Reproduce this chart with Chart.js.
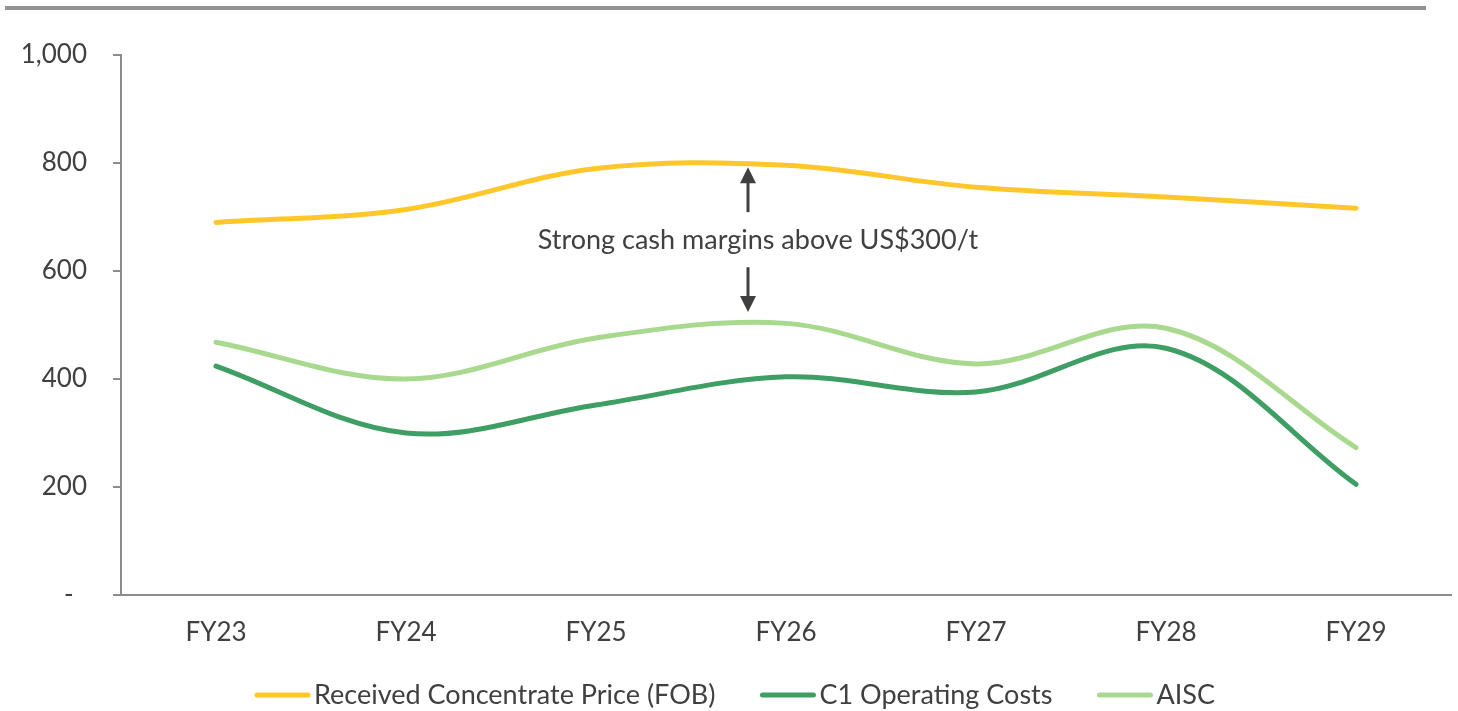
<!DOCTYPE html>
<html>
<head>
<meta charset="utf-8">
<script src="https://cdn.jsdelivr.net/npm/chart.js@4.4.1/dist/chart.umd.min.js"></script>
<style>
  html, body { margin: 0; padding: 0; background: #fff; }
  #wrap { position: relative; width: 1458px; height: 711px; }
</style>
</head>
<body>
<div id="wrap"><canvas id="costChart" width="1458" height="711"></canvas></div>
<script>
const years = ["FY23", "FY24", "FY25", "FY26", "FY27", "FY28", "FY29"]
const receivedPrice = [690, 714, 790, 796, 755, 737, 716]
const c1Costs = [424, 300, 352, 404, 376, 457, 205]
const aiscCosts = [468, 400, 476, 503, 428, 494, 273]
const yTicks = [0, 200, 400, 600, 800, 1000]

const noteText = "Strong cash margins above US$300/t"
// arrow position in data units (category index, value)
const noteX = 2.8
const arrowUp = [792, 709]
const arrowDown = [607, 524]
const noteY = 656

const COLORS = {
  yellow: "#FFC72C",
  darkGreen: "#3F9E63",
  lightGreen: "#A9D98E",
  text: "#404040",
  axis: "#8C8C8C",
}
const FONT = "Lato, 'Open Sans', sans-serif"

// top rule, arrows + annotation, legend row
const extras = {
  id: "extras",
  beforeDraw(chart) {
    const ctx = chart.ctx
    ctx.save()
    ctx.fillStyle = "#929292"
    ctx.fillRect(5, 6, 1421, 4)
    ctx.restore()
  },
  afterDatasetsDraw(chart) {
    const { ctx, scales } = chart
    const x = scales.x.getPixelForValue(noteX)
    const drawArrow = (from, to) => {
      const y1 = scales.y.getPixelForValue(from)
      const y2 = scales.y.getPixelForValue(to)
      const dir = y2 > y1 ? 1 : -1
      ctx.beginPath()
      ctx.moveTo(x, y1)
      ctx.lineTo(x, y2 - dir * 14)
      ctx.stroke()
      ctx.beginPath()
      ctx.moveTo(x, y2)
      ctx.lineTo(x - 8, y2 - dir * 16)
      ctx.lineTo(x + 8, y2 - dir * 16)
      ctx.closePath()
      ctx.fill()
    }
    ctx.save()
    ctx.strokeStyle = COLORS.text
    ctx.fillStyle = COLORS.text
    ctx.lineWidth = 3
    drawArrow(arrowUp[1], arrowUp[0])
    drawArrow(arrowDown[0], arrowDown[1])
    ctx.font = "27px " + FONT
    ctx.textAlign = "center"
    ctx.textBaseline = "middle"
    ctx.fillText(noteText, x + 10, scales.y.getPixelForValue(noteY))
    ctx.restore()
  },
  afterDraw(chart) {
    const ctx = chart.ctx
    const sets = chart.data.datasets
    ctx.save()
    ctx.font = "27px " + FONT
    ctx.textBaseline = "middle"
    const box = 55, gapText = 4, gapItem = 45
    const widths = sets.map(d => box + gapText + ctx.measureText(d.label).width)
    const total = widths.reduce((a, b) => a + b, 0) + gapItem * (sets.length - 1)
    let x = 735 - total / 2
    const y = 695
    sets.forEach((d, i) => {
      ctx.strokeStyle = d.borderColor
      ctx.lineWidth = 5
      ctx.lineCap = "round"
      ctx.beginPath()
      ctx.moveTo(x + 2, y)
      ctx.lineTo(x + box - 2, y)
      ctx.stroke()
      ctx.fillStyle = COLORS.text
      ctx.fillText(d.label, x + box + gapText, y)
      x += widths[i] + gapItem
    })
    ctx.restore()
  },
}

const lineSet = (label, data, color) => ({
  label: label,
  data: data,
  borderColor: color,
  backgroundColor: color,
  borderWidth: 5,
  borderCapStyle: "round",
  pointRadius: 0,
  tension: 0.35,
})

new Chart(document.getElementById("costChart"), {
  type: "line",
  data: {
    labels: years,
    datasets: [
      lineSet("Received Concentrate Price (FOB)", receivedPrice, COLORS.yellow),
      lineSet("C1 Operating Costs", c1Costs, COLORS.darkGreen),
      lineSet("AISC", aiscCosts, COLORS.lightGreen),
    ],
  },
  options: {
    responsive: false,
    animation: false,
    layout: { padding: { left: 0, right: 7, top: 55, bottom: 0 } },
    plugins: {
      title: { display: false },
      tooltip: { enabled: false },
      legend: { display: false },
    },
    scales: {
      x: {
        offset: true,
        grid: { display: false, drawTicks: false },
        border: { display: true, color: COLORS.axis, width: 2 },
        ticks: {
          color: COLORS.text,
          font: { family: FONT, size: 26 },
          padding: 22,
        },
        afterFit(scale) { scale.height = 116 },
      },
      y: {
        min: 0,
        max: 1000,
        afterBuildTicks(scale) { scale.ticks = yTicks.map(v => ({ value: v })) },
        grid: { drawOnChartArea: false, drawTicks: true, tickLength: 8, color: COLORS.axis, lineWidth: 2 },
        border: { display: true, color: COLORS.axis, width: 2 },
        ticks: {
          color: COLORS.text,
          font: { family: FONT, size: 26 },
          padding: 26,
          callback: v => (v === 0 ? "-  " : v.toLocaleString("en-US")),
        },
        afterFit(scale) { scale.width = 121 },
      },
    },
  },
  plugins: [extras],
})
</script>
</body>
</html>
